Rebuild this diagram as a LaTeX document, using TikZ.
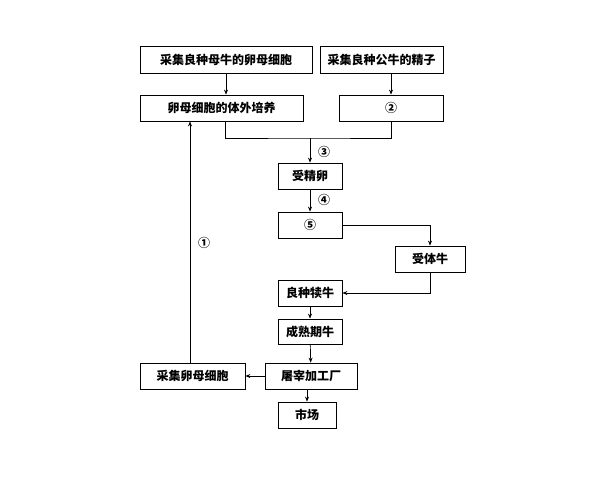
\documentclass[tikz,border=0pt]{standalone}
\usepackage{fontspec}
\setmainfont{Noto Sans CJK SC}
\usetikzlibrary{arrows.meta}
\begin{document}
\begin{tikzpicture}[x=1pt,y=-1pt,
  bx/.style={draw,line width=0.8pt,inner sep=0pt,font=\fontsize{12}{14}\selectfont\bfseries},
  ar/.style={-{Stealth[length=5pt,width=4pt]},line width=0.7pt},
  ln/.style={line width=0.7pt},
  lb/.style={font=\fontsize{12}{14}\selectfont\bfseries}]
\useasboundingbox[fill=white] (0,0) rectangle (600,480);
\node[bx,minimum width=172,minimum height=27] (A) at (226,59.5) {采集良种母牛的卵母细胞};
\node[bx,minimum width=123,minimum height=27] (B) at (381.5,59.5) {采集良种公牛的精子};
\node[bx,minimum width=163,minimum height=26] (C) at (221.5,108) {卵母细胞的体外培养};
\node[bx,minimum width=104,minimum height=26] (D) at (391,108) {②};
\node[bx,minimum width=64,minimum height=26] (E) at (310,176) {受精卵};
\node[bx,minimum width=64,minimum height=26] (F) at (310,225) {⑤};
\node[bx,minimum width=70,minimum height=26] (G) at (430,259) {受体牛};
\node[bx,minimum width=64,minimum height=26] (H) at (310,293) {良种犊牛};
\node[bx,minimum width=64,minimum height=25] (I) at (310,331.5) {成熟期牛};
\node[bx,minimum width=92,minimum height=26] (J) at (311,376) {屠宰加工厂};
\node[bx,minimum width=58,minimum height=26] (K) at (307,415) {市场};
\node[bx,minimum width=105,minimum height=26] (L) at (192.5,376) {采集卵母细胞};
\draw[ar] (A.south -| 226,0) -- (C.north -| 226,0);
\draw[ar] (B.south -| D.north) -- (D.north);
\coordinate (m) at (310,138);
\draw[ln] (C.south -| 225,0) |- (m) -| (D.south);
\draw[ar] (m) -- (E.north);
\node[lb] at (324,152) {③};
\draw[ar] (E) -- (F);
\node[lb] at (324,200) {④};
\draw[ar] (F.east) -| (G.north);
\draw[ar] (G.south) |- (H.east);
\draw[ar] (H) -- (I);
\draw[ar] (I) -- (J);
\draw[ar] (J.south -| K.north) -- (K.north);
\draw[ar] (J.west) -- (L.east);
\draw[ar] (L.north -| 190,0) -- (C.south -| 190,0);
\node[lb] at (204,243) {①};
\end{tikzpicture}
\end{document}
